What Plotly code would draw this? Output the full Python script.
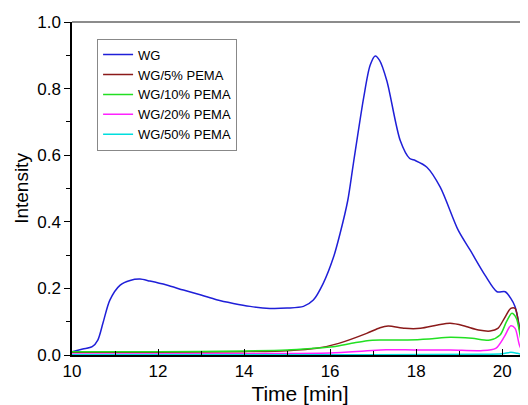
import plotly.graph_objects as go

# WG
t_wg = [10.0, 10.25, 10.47, 10.6, 10.72, 10.88, 11.12, 11.35, 11.58, 11.81, 12.2, 12.59, 13.0, 13.36,
        13.75, 14.14, 14.6, 15.0, 15.38, 15.61, 15.84, 16.08, 16.23, 16.41, 16.54, 16.78, 16.93, 17.05,
        17.15, 17.32, 17.63, 17.85, 17.98, 18.25, 18.56, 18.98, 19.26, 19.6, 19.88, 20.07, 20.2, 20.3,
        20.42, 20.5]
i_wg = [0.01, 0.018, 0.025, 0.045, 0.096, 0.165, 0.21, 0.224, 0.228, 0.222, 0.21, 0.195, 0.18, 0.166,
        0.155, 0.146, 0.14, 0.141, 0.146, 0.165, 0.215, 0.294, 0.364, 0.464, 0.574, 0.773, 0.87, 0.898,
        0.885, 0.823, 0.644, 0.59, 0.584, 0.564, 0.504, 0.374, 0.314, 0.24, 0.19, 0.19, 0.17, 0.145,
        0.07, 0.0]

# WG/5% PEMA
t_5 = [10, 12, 14, 15, 15.69, 16.2, 16.85, 17.16, 17.35, 17.74, 18.1, 18.5, 18.79, 19.1, 19.45,
       19.72, 19.9, 20.05, 20.2, 20.3, 20.4, 20.53]
i_5 = [0.008, 0.008, 0.01, 0.013, 0.02, 0.035, 0.065, 0.082, 0.087, 0.08, 0.08, 0.09, 0.095, 0.088,
       0.075, 0.072, 0.08, 0.11, 0.14, 0.14, 0.08, 0.0]

# WG/10% PEMA
t_10 = [10, 12, 14, 15, 15.6, 16.07, 16.5, 16.86, 17.16, 17.8, 18.3, 18.79, 19.3, 19.72, 19.95,
        20.1, 20.22, 20.33, 20.43, 20.53]
i_10 = [0.01, 0.01, 0.012, 0.015, 0.02, 0.025, 0.035, 0.043, 0.045, 0.045, 0.048, 0.053, 0.05,
        0.045, 0.06, 0.1, 0.125, 0.11, 0.05, 0.0]

# WG/20% PEMA
t_20 = [10, 14, 16, 16.8, 17.3, 18.0, 18.8, 19.5, 19.85, 20.05, 20.2, 20.3, 20.4, 20.5]
i_20 = [0.003, 0.004, 0.006, 0.012, 0.016, 0.015, 0.015, 0.013, 0.02, 0.055, 0.088, 0.08, 0.03, 0.0]

# WG/50% PEMA
t_50 = [10, 15, 19.5, 20.0, 20.2, 20.35, 20.5]
i_50 = [0.001, 0.001, 0.002, 0.004, 0.008, 0.005, 0.0]

names = ["WG", "WG/5% PEMA", "WG/10% PEMA", "WG/20% PEMA", "WG/50% PEMA"]
colors = ["#1f1fd8", "#8b1a1a", "#22e022", "#ff22ff", "#00dede"]
series = [(t_wg, i_wg), (t_5, i_5), (t_10, i_10), (t_20, i_20), (t_50, i_50)]

fig = go.Figure()
for (t, v), n, c in zip(series, names, colors):
    fig.add_trace(go.Scatter(x=t, y=v, name=n, mode="lines",
                             line=dict(color=c, width=1.5, shape="spline", smoothing=0.8)))

# page body has an 8px margin, so the figure is 8px smaller and offset
fig.update_layout(
    width=520, height=397,
    margin=dict(l=64, r=0, t=14, b=50),
    paper_bgcolor="white", plot_bgcolor="white",
    font=dict(family="Arial, Liberation Sans, sans-serif", color="black"),
    legend=dict(x=0.055, y=0.95, xanchor="left", yanchor="top",
                bordercolor="#888", borderwidth=1, bgcolor="rgba(255,255,255,0)",
                font=dict(size=13), tracegroupgap=0),
    showlegend=True,
)
fig.update_xaxes(range=[10, 20.6], dtick=2, tick0=10, ticks="inside", ticklen=6,
                 tickwidth=1.2, tickcolor="black", automargin=False,
                 showline=True, linecolor="black", linewidth=1.5, showgrid=False, zeroline=False,
                 tickfont=dict(size=17),
                 title=dict(text="Time [min]", font=dict(size=21), standoff=6),
                 minor=dict(ticks="inside", dtick=1, ticklen=4, tickcolor="black"))
fig.update_yaxes(range=[0, 1.0], dtick=0.2, ticks="outside", ticklen=6, tickwidth=1.2,
                 tickcolor="black", tickformat=".1f", automargin=False,
                 showline=True, linecolor="black", linewidth=1.5, showgrid=False, zeroline=False,
                 tickfont=dict(size=17),
                 title=dict(text="Intensity", font=dict(size=19), standoff=4),
                 minor=dict(ticks="outside", dtick=0.1, ticklen=4, tickcolor="black"))
fig.add_shape(type="line", xref="paper", yref="paper", x0=0, x1=1, y0=1, y1=1,
              line=dict(color="#666", width=1.5))
fig.write_html("out.html")
